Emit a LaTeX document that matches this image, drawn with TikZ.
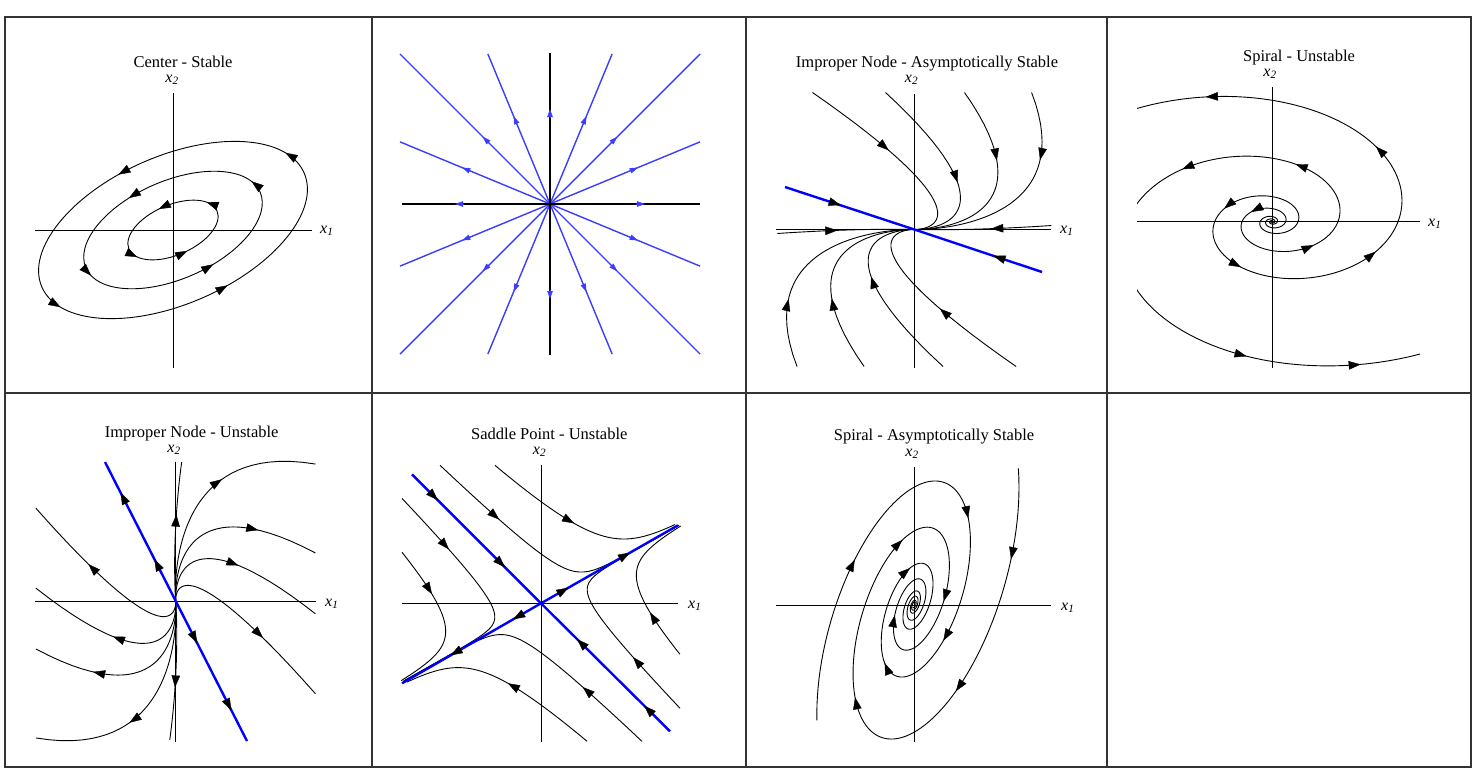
\documentclass[tikz,border=0pt]{standalone}
\usepackage{fontspec}
\setmainfont{Liberation Serif}
\usetikzlibrary{arrows.meta,decorations.markings}
\definecolor{eigblue}{RGB}{0,0,255}
\definecolor{rayblue}{RGB}{60,60,255}
\begin{document}
\begin{tikzpicture}[x=1pt,y=1pt,
  traj/.style={draw=black,line width=0.9pt},
  axis/.style={draw=black,line width=0.9pt},
  eig/.style={draw=eigblue,line width=2.4pt},
  ray/.style={draw=rayblue,line width=1.4pt},
  cell/.style={draw=black!80,line width=1.2pt},
  title/.style={font=\fontsize{16.5}{19}\selectfont,anchor=base,inner sep=0pt},
  lab/.style={font=\fontsize{16}{18}\selectfont\itshape,anchor=base,inner sep=0pt},
  headtip/.style={-{Triangle[length=12pt,width=8.5pt,line width=0.4pt]}},
  smalltip/.style={draw=rayblue,line width=1pt,-{Triangle[length=8pt,width=5.5pt,line width=0.4pt]}},
  arr/.style={postaction={decorate,decoration={markings,mark=at position #1 with {\arrow{Triangle[length=12pt,width=8.5pt,line width=0.4pt,color=black,fill=black]}}}}},
  declare function={sux(\RR,\TT)=\RR*exp(0.004381*\TT)*cos(\TT); suy(\RR,\TT)=0.65*\RR*exp(0.004381*\TT)*sin(\TT);
    ssx(\RR,\TT)=\RR*exp(-0.003026*\TT)*cos(\TT); ssy(\RR,\TT)=-0.45*\RR*exp(-0.003026*\TT)*sin(\TT);}]
\useasboundingbox (0,0) rectangle (1477,-772);
% table
\draw[cell] (5,-17) rectangle (1471,-767);
\draw[cell] (372,-17) -- (372,-767); \draw[cell] (746,-17) -- (746,-767); \draw[cell] (1107,-17) -- (1107,-767);
\draw[cell] (5,-393) -- (1471,-393);
% titles and axis labels
\node[title] (ctitle) at (183,-67) {Center - Stable};
\node[lab] (cx2) at (172,-82) {x\textsubscript{2}};
\node[lab,anchor=base west] (cx1) at (320,-233) {x\textsubscript{1}};
\node[title] (ntitle) at (927,-67) {Improper Node - Asymptotically Stable};
\node[lab] (nx2) at (911.5,-82) {x\textsubscript{2}};
\node[lab,anchor=base west] (nx1) at (1060,-233) {x\textsubscript{1}};
\node[title] (sutitle) at (1299,-61) {Spiral - Unstable};
\node[lab] (sux2) at (1270,-76) {x\textsubscript{2}};
\node[lab,anchor=base west] (sux1) at (1428,-226) {x\textsubscript{1}};
\node[title] (nutitle) at (191.7,-437) {Improper Node - Unstable};
\node[lab] (nux2) at (174,-452) {x\textsubscript{2}};
\node[lab,anchor=base west] (nux1) at (325,-606) {x\textsubscript{1}};
\node[title] (sptitle) at (549.3,-439) {Saddle Point - Unstable};
\node[lab] (spx2) at (539.5,-454) {x\textsubscript{2}};
\node[lab,anchor=base west] (spx1) at (688,-608) {x\textsubscript{1}};
\node[title] (sstitle) at (934,-440) {Spiral - Asymptotically Stable};
\node[lab] (ssx2) at (912,-456) {x\textsubscript{2}};
\node[lab,anchor=base west] (ssx1) at (1061,-610) {x\textsubscript{1}};
% center
\begin{scope}[shift={(173,-230)}]
\draw[axis] (0,137) -- (0,-138); \draw[axis] (-138,0) -- (139,0);
\draw[traj,rotate=23.5,arr=0.04,arr=0.29,arr=0.54,arr=0.79] (0,0) ellipse [x radius=143,y radius=74];
\draw[traj,rotate=23.5,arr=0.03,arr=0.31,arr=0.52,arr=0.80] (0,0) ellipse [x radius=95,y radius=49];
\draw[traj,rotate=23.5,arr=0.06,arr=0.27,arr=0.55,arr=0.77] (0,0) ellipse [x radius=48,y radius=25];
\end{scope}
% star
\begin{scope}[shift={(550,-204)}]
\foreach \a in {22.5,45,67.5,112.5,135,157.5,202.5,225,247.5,292.5,315,337.5}{
  \pgfmathsetmacro\len{150/max(abs(cos(\a)),abs(sin(\a)))}
  \draw[ray] (0,0) -- (\a:\len);}
\draw[axis,line width=1.3pt] (0,151) -- (0,-151); \draw[axis,line width=1.3pt] (-148,0) -- (150,0);
\foreach \a in {0,22.5,...,337.5} \draw[smalltip] (\a:86) -- (\a:95);
\end{scope}
% improper node, stable
\begin{scope}[shift={(914.3,-229.5)}]
\draw[axis] (0,135.5) -- (0,-138.5); \draw[axis] (-138.6,0) -- (136.7,0);
\foreach \rot in {0,180}{
 \begin{scope}[rotate=\rot,x={(1pt,-0.04pt)},y={(0.95pt,-0.314pt)}]
 \foreach \U/\W/\p in {355.7/-481.6/0.46,438.8/-492.2/0.6,528.6/-503.6/0.38,604.9/-513.3/0.31,169.6/-34.3/0.44}
  \draw[traj,arr=\p] plot[domain=0:6,samples=100,variable=\t] ({\U*exp(-\t)},{\W*exp(-1.4*\t)});
 \end{scope}}
\draw[eig,arr=0.43] (-129.3,42.5) -- (0,0); \draw[eig,arr=0.38] (127.7,-42.5) -- (0,0);
\end{scope}
% spiral, unstable
\begin{scope}[shift={(1272,-221.7)}]
\draw[axis] (0,134.7) -- (0,-146.3); \draw[axis] (-135,0) -- (147.6,0);
\begin{scope}
\clip (-135,-147) rectangle (148,135);
\draw[traj] plot[domain=-1100:180,samples=500,variable=\t] ({sux(126,\t)},{suy(126,\t)});
\draw[traj,rotate=180] plot[domain=-1100:180,samples=500,variable=\t] ({sux(145,\t)},{suy(145,\t)});
\end{scope}
\foreach \a in {108,47,-25,-115,-204} \draw[traj,headtip] ({sux(126,\a-1)},{suy(126,\a-1)}) -- ({sux(126,\a+1)},{suy(126,\a+1)});
\begin{scope}[rotate=180]
\foreach \a in {82,111,-43,-106,-222,-397} \draw[traj,headtip] ({sux(145,\a-1)},{suy(145,\a-1)}) -- ({sux(145,\a+1)},{suy(145,\a+1)});
\end{scope}
\end{scope}
% improper node, unstable
\begin{scope}[shift={(175.7,-601)}]
\draw[axis] (0,139.3) -- (0,-140.7); \draw[axis] (-140.7,0) -- (140.3,0);
\foreach \rot in {0,180}{
 \begin{scope}[rotate=\rot,x={(-0.08pt,1pt)},y={(0.454pt,-0.891pt)}]
 \foreach \U/\W/\p in {178.9/44.7/0.62,488.4/394.5/0.58,382.8/375.9/0.68,310.5/363.1/0.5,215.6/346.4/0.6}
  \draw[traj,arr=\p] plot[domain=-6:0,samples=100,variable=\t] ({\U*exp(\t)},{\W*exp(1.5*\t)});
 \end{scope}}
\draw[eig,arr=0.3,arr=0.78] (0,0) -- (-70.7,139); \draw[eig,arr=0.3,arr=0.78] (0,0) -- (71.3,-140);
\end{scope}
% saddle
\begin{scope}[shift={(541,-603.3)}]
\draw[axis] (0,138.3) -- (0,-138.4); \draw[axis] (-138.7,0) -- (137.3,0);
\foreach \rot in {0,180}{
 \begin{scope}[rotate=\rot,x={(0.870pt,0.492pt)},y={(0.707pt,-0.707pt)}]
 \foreach \U/\W/\tend/\p in {27.2/-176.3/8.35/0.28,67.5/-148.2/4.0/0.48,-25/-165.9/8.8/0.26,-64.6/-117/4.3/0.32}
  \draw[traj,arr=\p] plot[domain=0:\tend,samples=100,variable=\t] ({\U*exp(0.21*\t)},{\W*exp(-\t)});
 \end{scope}}
\draw[eig,arr=0.2,arr=0.72] (-129,129) -- (0,0); \draw[eig,arr=0.2,arr=0.72] (129,-128) -- (0,0);
\draw[eig,arr=0.2,arr=0.65] (0,0) -- (137,78); \draw[eig,arr=0.2,arr=0.65] (0,0) -- (-139,-80);
\end{scope}
% spiral, stable
\begin{scope}[shift={(914,-605)}]
\draw[axis] (0,137.7) -- (0,-136.7); \draw[axis] (-138,0) -- (137,0);
\begin{scope}[rotate=72]
\draw[traj] plot[domain=-138:1300,samples=500,variable=\t] ({ssx(124,\t)},{ssy(124,\t)});
\foreach \a in {-82,28,105,198,314} \draw[traj,headtip] ({ssx(124,\a-1)},{ssy(124,\a-1)}) -- ({ssx(124,\a+1)},{ssy(124,\a+1)});
\end{scope}
\begin{scope}[rotate=252]
\draw[traj] plot[domain=-142:1300,samples=500,variable=\t] ({ssx(134,\t)},{ssy(134,\t)});
\foreach \a in {-114,-66,29,129,257,424} \draw[traj,headtip] ({ssx(134,\a-1)},{ssy(134,\a-1)}) -- ({ssx(134,\a+1)},{ssy(134,\a+1)});
\end{scope}
\end{scope}
\end{tikzpicture}
\end{document}
